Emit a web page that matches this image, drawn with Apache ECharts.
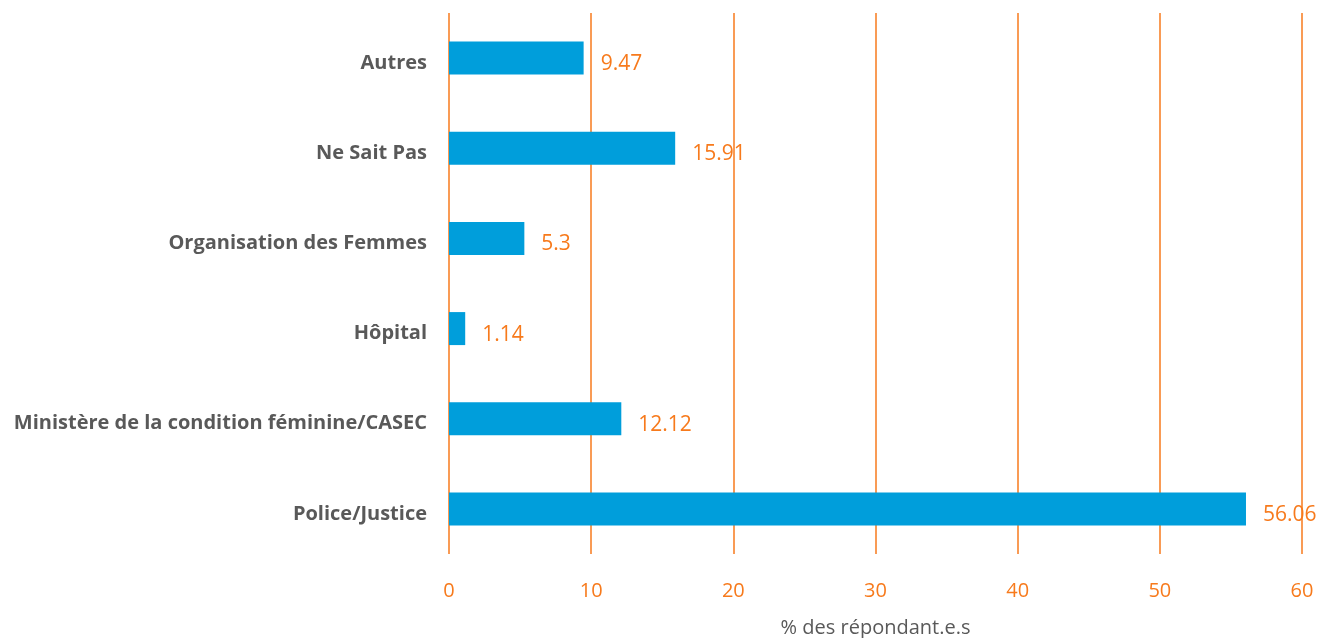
<!DOCTYPE html>
<html>
<head>
<meta charset="utf-8">
<script src="https://cdn.jsdelivr.net/npm/echarts@6/dist/echarts.min.js"></script>
<style>
  html, body { margin: 0; padding: 0; background: #fff; }
  #chart { width: 1329px; height: 638px; }
</style>
</head>
<body>
<div id="chart"></div>
<script>
// categories listed bottom to top
const categories = [
  'Police/Justice',
  'Ministère de la condition féminine/CASEC',
  'Hôpital',
  'Organisation des Femmes',
  'Ne Sait Pas',
  'Autres'
]
const values = [56.06, 12.12, 1.14, 5.3, 15.91, 9.47]
const axisTitle = '% des répondant.e.s'

const orange = '#F77A1C'
const grey = '#595959'
const font = 'Open Sans'

const chart = echarts.init(document.getElementById('chart'))

chart.setOption({
  animation: false,
  grid: { left: 449, right: 27, top: 13, bottom: 84, outerBoundsMode: 'none' },
  xAxis: {
    type: 'value',
    min: 0,
    max: 60,
    interval: 10,
    name: axisTitle,
    nameLocation: 'middle',
    nameGap: 64,
    nameTextStyle: { color: grey, fontFamily: font, fontSize: 20 },
    axisLine: { show: false },
    axisTick: { show: false },
    axisLabel: { color: orange, fontFamily: font, fontSize: 20, margin: 27 },
    splitLine: { show: true, lineStyle: { color: orange, width: 1.5 } }
  },
  yAxis: {
    type: 'category',
    data: categories,
    axisLine: { show: false },
    axisTick: { show: false },
    axisLabel: {
      color: grey,
      fontFamily: font,
      fontWeight: 'bold',
      fontSize: 20,
      margin: 22,
      formatter: v => '{c|' + v + '}',
      rich: {
        c: {
          color: grey,
          fontFamily: font,
          fontWeight: 'bold',
          fontSize: 20,
          padding: [10, 0, 0, 0]
        }
      }
    }
  },
  series: [{
    type: 'bar',
    data: values,
    barWidth: 33,
    itemStyle: { color: '#009EDB' },
    label: {
      show: true,
      position: 'right',
      distance: 17,
      offset: [0, 6],
      color: orange,
      fontFamily: font,
      fontSize: 21
    }
  }]
})
</script>
</body>
</html>
